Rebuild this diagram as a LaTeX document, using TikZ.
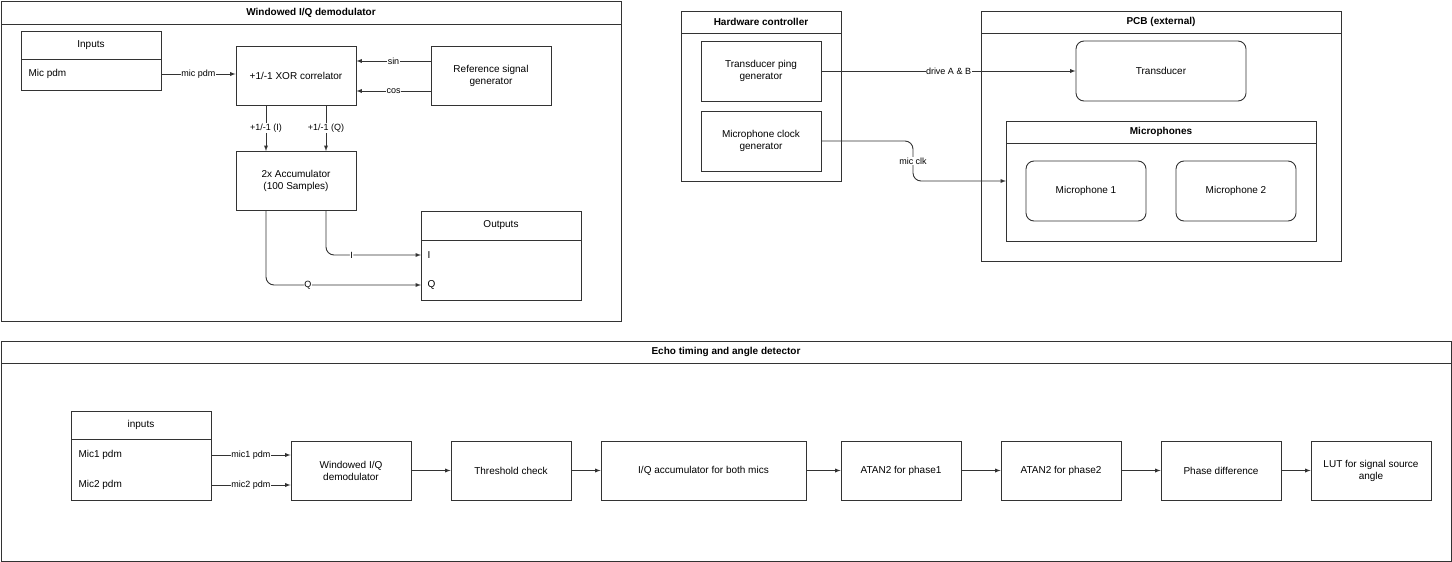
\documentclass[tikz,border=0pt]{standalone}
\usepackage{fontspec}
\setmainfont{Liberation Sans}
\begin{document}
\begin{tikzpicture}[x=1pt,y=-1pt,
  ln/.style={draw=black!80,line width=0.9pt},
  arr/.style={ln,-latex},
  lab/.style={fill=white,inner sep=0.5pt,font=\fontsize{9}{10}\selectfont},
  txt/.style={font=\fontsize{10}{12}\selectfont,align=center},
  ttl/.style={font=\bfseries\fontsize{10}{12}\selectfont}]
\useasboundingbox (0,0) rectangle (1452,562);
% frame 1
\draw[ln] (1,1) rectangle (621,321); \draw[ln] (1,24)--(621,24);
\node[ttl] (t1) at (311,12.5) {Windowed I/Q demodulator};
\draw[ln] (21,31) rectangle (161,90); \draw[ln] (21,59)--(161,59);
\node[txt] (inh) at (91,45) {Inputs};
\node[txt,anchor=west] (micpdm) at (25,74) {Mic pdm};
\node[ln,minimum width=120pt,minimum height=59pt,txt] (xor) at (296,75.5) {+1/-1 XOR correlator};
\node[ln,minimum width=120pt,minimum height=59pt,txt] (ref) at (491,75.5) {Reference signal\\generator};
\node[ln,minimum width=120pt,minimum height=59pt,txt] (acc) at (296,180.5) {2x Accumulator\\(100 Samples)};
\draw[ln] (421,211) rectangle (581,300); \draw[ln] (421,240)--(581,240);
\node[txt] (outh) at (501,225) {Outputs};
\coordinate (oI) at (421,255); \coordinate (oQ) at (421,285);
\node[txt,anchor=west] at (424,255) {I};
\node[txt,anchor=west] at (424,285) {Q};
\draw[arr] (161,74) -- node[lab]{mic pdm} (xor.west |- 0,74);
\draw[arr] (ref.west |- 0,61) -- node[lab]{sin} (xor.east |- 0,61);
\draw[arr] (ref.west |- 0,91) -- node[lab]{cos} (xor.east |- 0,91);
\draw[arr] (266,105) -- node[lab]{+1/-1 (I)} (266,151);
\draw[arr] (326,105) -- node[lab]{+1/-1 (Q)} (326,151);
\draw[arr,rounded corners=8pt] (326,210) -- (326,255) -- node[lab,pos=0.27]{I} (oI);
\draw[arr,rounded corners=8pt] (266,210) -- (266,285) -- node[lab,pos=0.27]{Q} (oQ);
% HW controller
\draw[ln] (681,11) rectangle (841,181); \draw[ln] (681,33)--(841,33);
\node[ttl] (t2) at (761,22) {Hardware controller};
\node[ln,minimum width=120pt,minimum height=60pt,txt] (ping) at (761,71) {Transducer ping\\generator};
\node[ln,minimum width=120pt,minimum height=60pt,txt] (clk) at (761,141) {Microphone clock\\generator};
% PCB
\draw[ln] (981,11) rectangle (1341,261); \draw[ln] (981,33)--(1341,33);
\node[ttl] (t3) at (1161,22) {PCB (external)};
\node[ln,rounded corners=8pt,minimum width=170pt,minimum height=60pt,txt] (trans) at (1161,71) {Transducer};
\draw[ln] (1006,121) rectangle (1316,241); \draw[ln] (1006,143)--(1316,143);
\node[ttl] (t4) at (1161,132) {Microphones};
\coordinate (mics) at (1006,181);
\node[ln,rounded corners=8pt,minimum width=120pt,minimum height=60pt,txt] (m1) at (1086,191) {Microphone 1};
\node[ln,rounded corners=8pt,minimum width=120pt,minimum height=60pt,txt] (m2) at (1236,191) {Microphone 2};
\draw[arr] (ping.east) -- node[lab,pos=0.5]{drive A \& B} (trans.west);
\draw[arr,rounded corners=8pt] (clk.east) -- (913,141) -- node[lab]{mic clk} (913,181) -- (mics);
% frame 3
\draw[ln] (1,341) rectangle (1451,561); \draw[ln] (1,363)--(1451,363);
\node[ttl] (t5) at (726,352) {Echo timing and angle detector};
\draw[ln] (71,411) rectangle (211,500); \draw[ln] (71,439)--(211,439);
\node[txt] (in2) at (141,425) {inputs};
\node[txt,anchor=west] at (75,455) {Mic1 pdm};
\node[txt,anchor=west] at (75,485) {Mic2 pdm};
\node[ln,minimum width=120pt,minimum height=59pt,txt] (win) at (351,470.5) {Windowed I/Q\\demodulator};
\node[ln,minimum width=120pt,minimum height=59pt,txt] (thr) at (511,470.5) {Threshold check};
\node[ln,minimum width=205pt,minimum height=59pt,txt] (iqa) at (703.5,470.5) {I/Q accumulator for both mics};
\node[ln,minimum width=120pt,minimum height=59pt,txt] (at1) at (901,470.5) {ATAN2 for phase1};
\node[ln,minimum width=120pt,minimum height=59pt,txt] (at2) at (1061,470.5) {ATAN2 for phase2};
\node[ln,minimum width=120pt,minimum height=59pt,txt] (pd) at (1221,470.5) {Phase difference};
\node[ln,minimum width=120pt,minimum height=59pt,txt] (lut) at (1371,470.5) {LUT for signal source\\angle};
\draw[arr] (211,455) -- node[lab]{mic1 pdm} (win.west |- 0,455);
\draw[arr] (211,485) -- node[lab]{mic2 pdm} (win.west |- 0,485);
\draw[arr] (win) -- (thr);
\draw[arr] (thr) -- (iqa);
\draw[arr] (iqa) -- (at1);
\draw[arr] (at1) -- (at2);
\draw[arr] (at2) -- (pd);
\draw[arr] (pd) -- (lut);
\end{tikzpicture}
\end{document}
